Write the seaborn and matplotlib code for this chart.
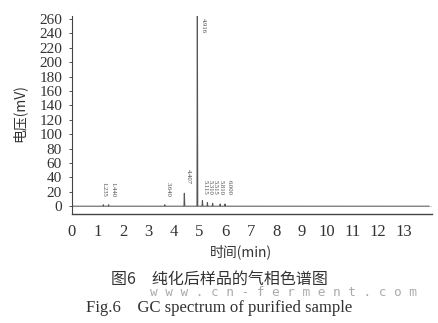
import matplotlib
matplotlib.use("Agg")
import matplotlib.pyplot as plt
import seaborn as sns
import pandas as pd

# Data: retention times (min) and peak heights (mV)
peak_times = [1.235, 1.440, 3.640, 4.407, 4.916, 5.115, 5.310, 5.515, 5.810, 6.000]
peak_heights = [2, 2, 2, 18, 266, 8, 5, 4, 3, 3]
peak_labels = ["1.235", "1.440", "3.640", "4.407", "4.916", "5.115", "5.310", "5.515", "5.810", "6.000"]
x_ticks = list(range(0, 14))
y_ticks = list(range(0, 261, 20))
run_end = 14.0

# build the chromatogram trace from the peak list
xs, ys = [0.0], [0.0]
for t, h in zip(peak_times, peak_heights):
    xs += [t - 0.015, t, t + 0.015]
    ys += [0.0, h, 0.0]
xs.append(run_end)
ys.append(0.0)
df = pd.DataFrame({"time": xs, "signal": ys})

sns.set_theme(style="ticks")
plt.rcParams["font.family"] = ["Liberation Serif", "Noto Sans CJK SC"]

fig = plt.figure(figsize=(4.38, 3.23), dpi=100)
ax = fig.add_axes([0.164, 0.337, 0.822, 0.613])

sns.lineplot(data=df, x="time", y="signal", ax=ax, color="#555555", linewidth=0.8, sort=False)
ax.axhline(0, color="#999999", linewidth=0.6, linestyle=(0, (1, 1)))

ax.set_xlim(0, 14.1)
ax.set_ylim(-11, 264)
ax.set_xticks(x_ticks)
ax.set_yticks(y_ticks)
ax.tick_params(axis="y", labelsize=11, colors="#333333", length=2, width=0.6, pad=5)
ax.tick_params(axis="x", labelsize=12, colors="#333333", length=0, pad=7)
for s in ["top", "right"]:
    ax.spines[s].set_visible(False)
ax.spines["left"].set_color("#444444")
ax.spines["bottom"].set_color("#444444")
ax.spines["left"].set_linewidth(0.8)
ax.spines["bottom"].set_linewidth(1.0)
ax.set_xlabel("")
ax.set_ylabel("")

# peak labels (label x shift in minutes, to keep crowded labels apart)
shift = {"1.235": -0.08, "1.440": 0.08, "3.640": 0.05, "4.407": 0.05, "4.916": 0.15,
         "5.115": 0.0, "5.310": 0.0, "5.515": 0.0, "5.810": -0.05, "6.000": 0.05}
for t, h, lab in zip(peak_times, peak_heights, peak_labels):
    if lab == "4.916":
        y = 262
    elif t >= 5.0:
        y = 36
    elif lab == "4.407":
        y = 52
    else:
        y = 34
    ax.text(t + shift[lab], y, lab, rotation=270, fontsize=4.8, color="#444444",
            va="top", ha="left")

fig.text(0.043, 0.65, "电压(mV)", rotation=90, fontsize=10, color="#333333",
         ha="center", va="center", family=["Noto Sans CJK SC"])
fig.text(0.55, 1 - 252 / 323, "时间(min)", fontsize=10, color="#333333",
         ha="center", va="center", family=["Noto Sans CJK SC", "Liberation Serif"])
fig.text(0.50, 1 - 279 / 323, "图6　纯化后样品的气相色谱图", fontsize=11.5, color="#333333",
         ha="center", va="center", family=["Noto Sans CJK SC", "Liberation Serif"])
fig.text(0.647, 1 - 293 / 323, "w w w . c n - f e r m e n t . c o m", fontsize=9.2,
         color="#aaaaaa", ha="center", va="center", family=["DejaVu Sans Mono"])
fig.text(0.50, 1 - 308 / 323, "Fig.6　GC spectrum of purified sample", fontsize=12,
         color="#333333", ha="center", va="center", family=["Liberation Serif", "Noto Sans CJK SC"])

fig.savefig("out.png", dpi=100)
